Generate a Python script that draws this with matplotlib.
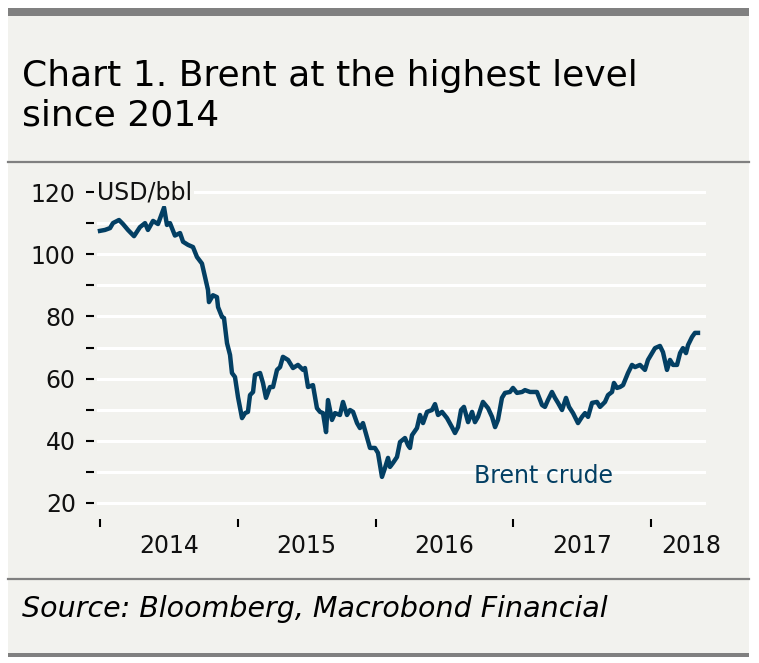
import matplotlib
matplotlib.use("Agg")
import matplotlib.pyplot as plt
from matplotlib.patches import Rectangle
from matplotlib.lines import Line2D

# ---------------- data ----------------
years = [2014.00, 2014.036, 2014.073, 2014.094, 2014.138, 2014.167, 2014.203, 2014.247,
         2014.290, 2014.327, 2014.348, 2014.385, 2014.421, 2014.465, 2014.486, 2014.508,
         2014.544, 2014.581, 2014.603, 2014.639, 2014.675, 2014.704, 2014.740, 2014.762,
         2014.784, 2014.791, 2014.820, 2014.849, 2014.857, 2014.886, 2014.900, 2014.922,
         2014.944, 2014.958, 2014.980, 2015.002, 2015.031, 2015.053, 2015.074, 2015.089,
         2015.111, 2015.125, 2015.162, 2015.183, 2015.205, 2015.234, 2015.256, 2015.285,
         2015.307, 2015.328, 2015.365, 2015.401, 2015.437, 2015.474, 2015.488, 2015.510,
         2015.546, 2015.575, 2015.597, 2015.619, 2015.641, 2015.655, 2015.684, 2015.706,
         2015.742, 2015.764, 2015.793, 2015.815, 2015.837, 2015.866, 2015.887, 2015.909,
         2015.938, 2015.960, 2015.996, 2016.018, 2016.047, 2016.069, 2016.091, 2016.105,
         2016.127, 2016.156, 2016.178, 2016.214, 2016.236, 2016.250, 2016.265, 2016.301,
         2016.323, 2016.345, 2016.374, 2016.410, 2016.432, 2016.454, 2016.483, 2016.519,
         2016.555, 2016.577, 2016.599, 2016.621, 2016.642, 2016.672, 2016.701, 2016.722,
         2016.744, 2016.780, 2016.817, 2016.846, 2016.868, 2016.889, 2016.918, 2016.940,
         2016.976, 2016.998, 2017.027, 2017.064, 2017.085, 2017.122, 2017.172, 2017.209,
         2017.230, 2017.252, 2017.281, 2017.303, 2017.325, 2017.354, 2017.383, 2017.405,
         2017.434, 2017.470, 2017.499, 2017.521, 2017.543, 2017.572, 2017.608, 2017.630,
         2017.666, 2017.688, 2017.717, 2017.731, 2017.753, 2017.775, 2017.797, 2017.833,
         2017.862, 2017.884, 2017.920, 2017.956, 2017.978, 2018.007, 2018.029, 2018.065,
         2018.087, 2018.116, 2018.138, 2018.160, 2018.189, 2018.211, 2018.232, 2018.254,
         2018.269, 2018.298, 2018.319, 2018.341]

brent = [107.5, 107.8, 108.4, 110.0, 111.0, 109.7, 107.8, 105.8,
         108.7, 110.0, 107.8, 110.7, 109.7, 115.0, 109.4, 110.0,
         106.0, 106.8, 104.0, 103.0, 102.3, 99.1, 97.0, 92.7,
         88.5, 84.6, 86.8, 86.2, 83.0, 79.8, 79.5, 71.4,
         67.6, 61.8, 60.5, 54.0, 47.3, 48.9, 49.3, 54.7,
         55.7, 61.2, 61.8, 58.6, 53.8, 57.3, 57.3, 62.8,
         63.7, 67.0, 66.0, 63.4, 64.4, 62.8, 63.4, 57.3,
         57.9, 50.5, 49.3, 48.9, 42.8, 53.1, 46.7, 48.9,
         48.3, 52.5, 48.3, 49.9, 49.3, 45.7, 44.1, 45.7,
         41.2, 37.7, 37.7, 36.1, 28.4, 31.3, 34.5, 31.6,
         32.9, 34.8, 39.6, 40.9, 38.6, 37.7, 41.8, 44.1,
         48.3, 45.7, 49.3, 49.9, 51.8, 48.3, 49.3, 47.3,
         44.4, 42.5, 44.4, 49.9, 50.9, 46.0, 49.3, 46.0,
         47.7, 52.5, 50.5, 47.7, 44.4, 46.7, 53.8, 55.4,
         55.7, 57.0, 55.4, 55.7, 56.3, 55.7, 55.7, 51.5,
         50.9, 53.1, 55.7, 53.8, 52.2, 49.9, 53.8, 50.9,
         48.9, 45.7, 47.7, 48.9, 47.7, 52.2, 52.5, 50.9,
         52.5, 54.7, 55.7, 58.6, 57.0, 57.3, 57.9, 61.8,
         64.4, 63.7, 64.4, 62.8, 66.0, 68.2, 69.8, 70.5,
         68.5, 62.8, 66.0, 64.4, 64.4, 68.2, 69.8, 68.2,
         70.8, 73.4, 74.7, 74.7]

year_ticks = [2014, 2015, 2016, 2017, 2018]
year_label_pos = [2014.5, 2015.5, 2016.5, 2017.5, 2018.29]
year_labels = ["2014", "2015", "2016", "2017", "2018"]
y_major = [20, 40, 60, 80, 100, 120]
y_minor = [30, 50, 70, 90, 110]

title_lines = ["Chart 1. Brent at the highest level", "since 2014"]
unit_label = "USD/bbl"
series_label = "Brent crude"
source = "Source: Bloomberg, Macrobond Financial"

# ---------------- style ----------------
W, H = 759, 663
PANEL = "#f2f2ee"
GRAY = "#808080"
LINE = "#033f63"
plt.rcParams['font.family'] = ['DejaVu Sans']

fig = plt.figure(figsize=(W / 100, H / 100), dpi=100)
fig.patch.set_facecolor("white")

def fx(px):
    return px / W

def fy(py):
    return 1 - py / H

# panel background
fig.patches.append(Rectangle((fx(8), fy(654)), fx(749 - 8), (654 - 15) / H,
                             transform=fig.transFigure, facecolor=PANEL,
                             edgecolor="none", zorder=-3))
# top bar
fig.patches.append(Rectangle((fx(8), fy(16)), fx(749 - 8), 8 / H,
                             transform=fig.transFigure, facecolor=GRAY,
                             edgecolor="none", zorder=-2))
# bottom bar
fig.patches.append(Rectangle((fx(8), fy(657)), fx(749 - 8), 4 / H,
                             transform=fig.transFigure, facecolor=GRAY,
                             edgecolor="none", zorder=-2))
# separators
for yy in (162, 579):
    fig.lines.append(Line2D([fx(8), fx(749)], [fy(yy), fy(yy)],
                            transform=fig.transFigure, color=GRAY, lw=1.6,
                            zorder=-2))

fig.text(fx(22), fy(86), title_lines[0], fontsize=26, color="black",
         ha="left", va="baseline")
fig.text(fx(22), fy(126), title_lines[1], fontsize=26, color="black",
         ha="left", va="baseline")
fig.text(fx(22), fy(617), source, fontsize=20.5, style="italic",
         color="black", ha="left", va="baseline")

# ---------------- axes ----------------
ax_top_px = 192 - 0.5 * 3.11
ax_bot_px = 503 + 0.5 * 3.11
ax = fig.add_axes([fx(97), fy(ax_bot_px), fx(706 - 97), (ax_bot_px - ax_top_px) / H])
ax.set_zorder(2)
ax.set_facecolor("none")
ax.set_xlim(2014 + (97 - 100) / 137.75, 2014 + (706 - 100) / 137.75)
ax.set_ylim(19.5, 120.5)

for v in y_major + y_minor:
    ax.axhline(v, color="white", lw=2.2, zorder=1)

ax.plot(years, brent, color=LINE, lw=3.2, solid_joinstyle="round", zorder=3)

for s in ax.spines.values():
    s.set_visible(False)
ax.spines['left'].set_position(('outward', 2.5))
ax.spines['bottom'].set_position(('outward', 10.5))

ax.set_yticks(y_major)
ax.set_yticks(y_minor, minor=True)
ax.set_yticklabels([str(v) for v in y_major])
ax.tick_params(axis='y', which='both', direction='out', length=5.8, width=1.5,
               color="black", labelsize=17, pad=7, labelcolor="#111111")

ax.set_xticks(year_ticks)
ax.set_xticklabels([])
ax.set_xticks(year_label_pos, minor=True)
ax.set_xticklabels(year_labels, minor=True)
ax.tick_params(axis='x', which='major', direction='out', length=5.8, width=1.5,
               color="black")
ax.tick_params(axis='x', which='minor', length=0, pad=11, labelsize=17,
               labelcolor="#111111")

ax.text(ax.get_xlim()[0], 120, unit_label, fontsize=17, color="#111111",
        ha="left", va="center", zorder=4,
        bbox=dict(facecolor=PANEL, edgecolor="none", pad=1.5))
ax.text(2017.22, 28.7, series_label, fontsize=17, color=LINE,
        ha="center", va="center", zorder=4)

fig.savefig("out.png", dpi=100, facecolor="white")
